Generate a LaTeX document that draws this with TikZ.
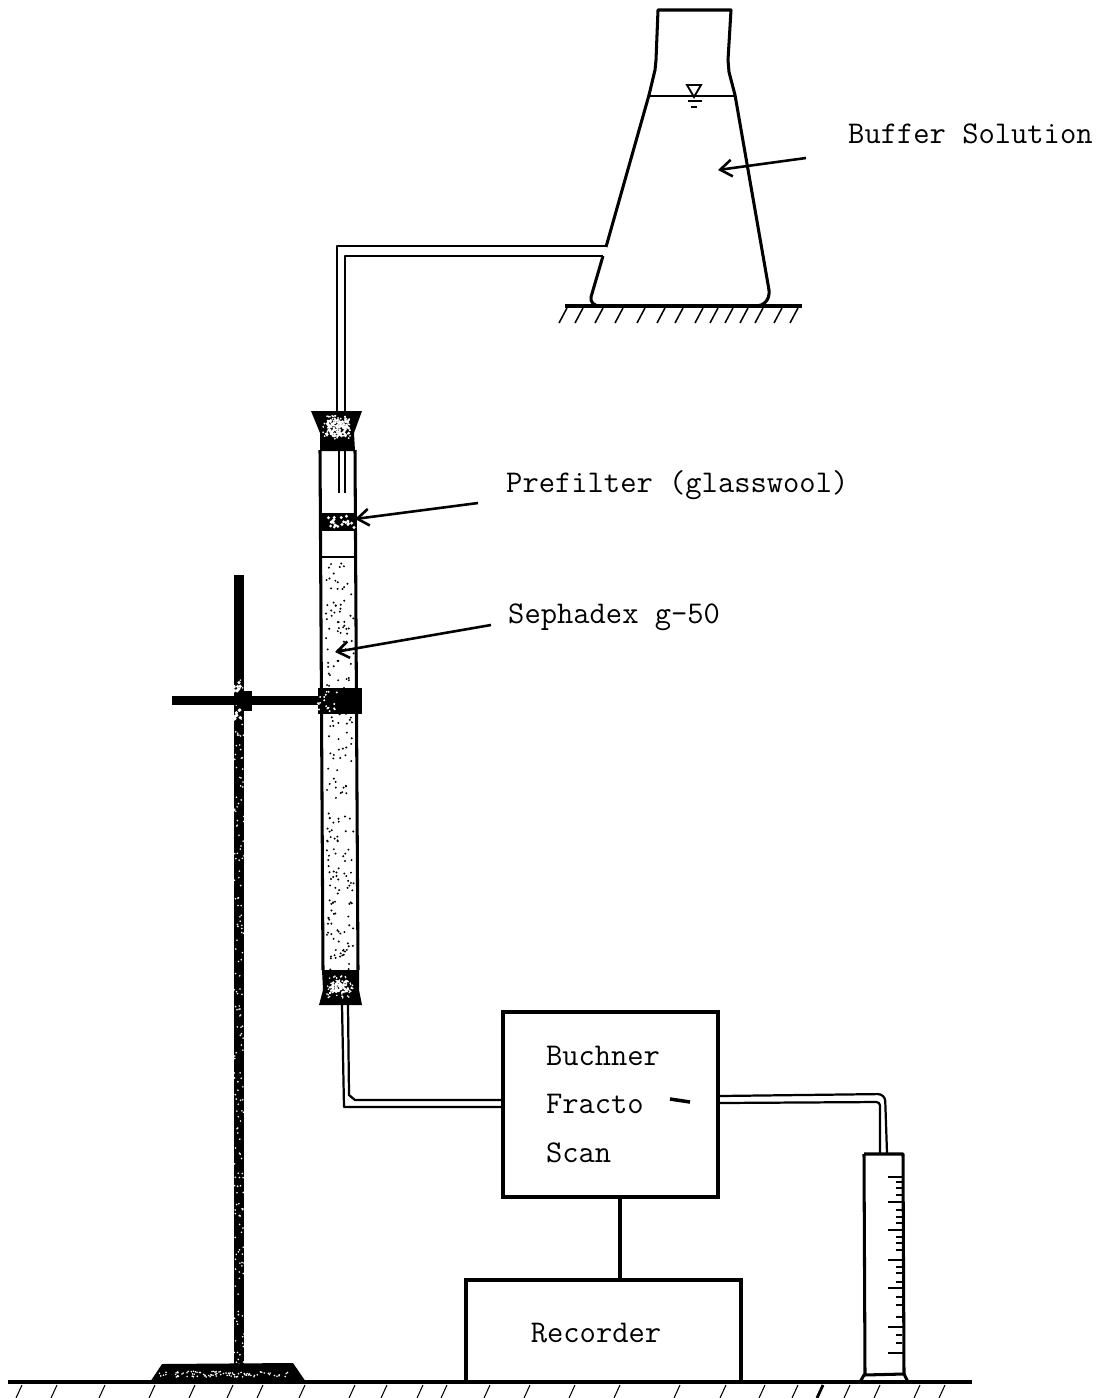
\documentclass[tikz,border=0pt]{standalone}
\usepackage{tikz}
\usetikzlibrary{arrows.meta,calc}
\newcommand{\speckle}[7]{%
  \foreach \i in {1,...,#1}{%
    \pgfmathsetmacro{\sx}{#2+#4*rnd}
    \pgfmathsetmacro{\sy}{#3+#5*rnd}
    \fill[#6] (\sx,\sy) circle[radius=#7];
  }}
\tikzset{
  wall/.style={line width=2.6pt, line join=round},
  tube/.style={line width=1.9pt, line join=round},
  hatch/.style={line width=1.3pt},
  pointer/.style={line width=2.2pt, -{Straight Barb[length=3.5mm,width=5mm]}},
  lbl/.style={font=\ttfamily\fontsize{27}{41}\selectfont, inner sep=0pt},
  unit/.style={draw, line width=2.8pt, inner sep=0pt}
}
\begin{document}
\begin{tikzpicture}[x=0.03cm, y=-0.03cm]
\useasboundingbox (0,0) rectangle (1098,1398);
\pgfmathsetseed{7}

\node[lbl, anchor=west] (buffer) at (848,134) {Buffer Solution};
\node[lbl, anchor=west] (prefilter) at (506,485) {Prefilter (glasswool)};
\node[lbl, anchor=west] (sephadex) at (508,617) {Sephadex g-50};
\node[unit, lbl, align=left, text width=3.87cm, inner xsep=1.29cm, minimum height=5.55cm] (fracto) at (610.5,1104.5) {Buchner\\Fracto\\Scan};
\node[unit, minimum width=8.25cm, minimum height=3.06cm] (recorder) at (603.5,1331) {};
\node[lbl] (recorderlbl) at (596,1333) {Recorder};

\coordinate (buffertail) at (806,158);
\coordinate (buffertip) at (718,170);
\coordinate (prefiltertail) at (478,503);
\coordinate (prefiltertip) at (355,519);
\coordinate (sephadextail) at (491,625);
\coordinate (sephadextip) at (335,652);
\coordinate (cable) at (620,1240);

\draw[wall] (606,247) -- (649,95) -- (655,70) -- (656,60) -- (658,10) -- (731,10) -- (728,60) -- (729,72) -- (735,95) -- (769,290)
  .. controls (770,300) and (764,306) .. (755,306);
\draw[wall] (603,256) -- (591,297) .. controls (590,303) and (595,306) .. (600,306);
\draw[line width=1.8pt] (649,96) -- (735,96);
\draw[line width=1.6pt] (687,85) -- (701,85) -- (694,97) -- cycle;
\draw[line width=1.6pt] (688,101) -- (702,101) (691,107) -- (697,107);
\draw[line width=3pt] (565,306) -- (802,306);
\foreach \hx in {567,583,603,623,645,665,683,703,718,733,748,763,782,798}
  \draw[hatch] (\hx,308) -- ++(-8,15);

\draw[tube] (606,246) -- (337,246) -- (337,412);
\draw[tube] (603,256) -- (345,256) -- (345,412);
\draw[tube] (339,450) -- (339,493);
\draw[tube] (345,450) -- (345,493);

\draw[wall] (320,450) -- (323,970);
\draw[wall] (355,450) -- (358,970);
\draw[line width=1.8pt] (321,557) -- (356,557);
\speckle{220}{326}{560}{28}{410}{black}{1.1}

\fill (311,411) -- (362,411) -- (354,433) -- (355,451) -- (320,451) -- (320,433) -- cycle;
\speckle{70}{323}{415}{28}{24}{white}{1}
\speckle{80}{327}{420}{22}{16}{white}{1.5}
\fill (321,513) rectangle (356,531);
\speckle{22}{324}{516}{30}{12}{white}{1.6}
\fill (322,970) -- (359,970) -- (359,990) -- (362,1005) -- (319,1005) -- (323,990) -- cycle;
\speckle{70}{327}{976}{26}{22}{white}{0.9}
\speckle{50}{330}{981}{18}{12}{white}{1.4}

\draw[tube] (342,1005) -- (344,1107) -- (fracto.west |- 0,1107);
\draw[tube] (348,1005) -- (349,1095) -- (355,1100) -- (fracto.west |- 0,1100);
\draw[tube, rounded corners=6pt] (fracto.east |- 0,1096) -- (885,1094) -- (887,1153);
\draw[tube, rounded corners=3pt] (fracto.east |- 0,1103) -- (880,1102) -- (880,1153);
\draw[line width=3pt] (670,1099) -- (690,1102);
\draw[line width=3pt] (fracto.south -| cable) -- (recorder.north -| cable);

\draw[wall] (864,1154) -- (903,1154) -- (904,1375);
\draw[wall] (864,1154) -- (865,1375);
\draw[wall] (860,1382) -- (864,1375) -- (904,1374) -- (908,1382);
\foreach \ty in {1177,1202,1230,1260,1288,1327,1353}
  \draw[hatch] (888,\ty) -- (903,\ty);
\foreach \ty in {1182,1188,1195,1210,1217,1223,1237,1243,1250,1267,1273,1282,1297,1305,1317,1335,1343}
  \draw[line width=1.2pt] (896,\ty) -- (902,\ty);

\fill (234,575) rectangle (244,1364);
\speckle{180}{234}{680}{10}{684}{white}{0.9}
\fill (172,696) rectangle (322,705);
\fill (241,691) rectangle (252,711);
\speckle{12}{232}{682}{9}{9}{white}{1.8}
\speckle{12}{232}{708}{9}{12}{white}{1.8}
\fill (318,688) rectangle (362,714);
\speckle{18}{318}{690}{20}{22}{white}{1.1}
\fill (150,1382) -- (162,1364) -- (293,1363) -- (306,1382) -- cycle;
\speckle{90}{158}{1371}{130}{6}{white}{0.9}

\draw[line width=3pt] (8,1382) -- (972,1382);
\foreach \gx in {22,57,105,155,195,233,263,305,355,387,423,447,490,530,575,620,680,726,765,798,850,880,920,945}
  \draw[line width=0.9pt] (\gx,1385) -- ++(-6,13);
\draw[line width=2.4pt] (823,1385) -- ++(-6,13);

\draw[pointer] (buffertail) -- (buffertip);
\draw[pointer] (prefiltertail) -- (prefiltertip);
\draw[pointer] (sephadextail) -- (sephadextip);
\end{tikzpicture}
\end{document}
